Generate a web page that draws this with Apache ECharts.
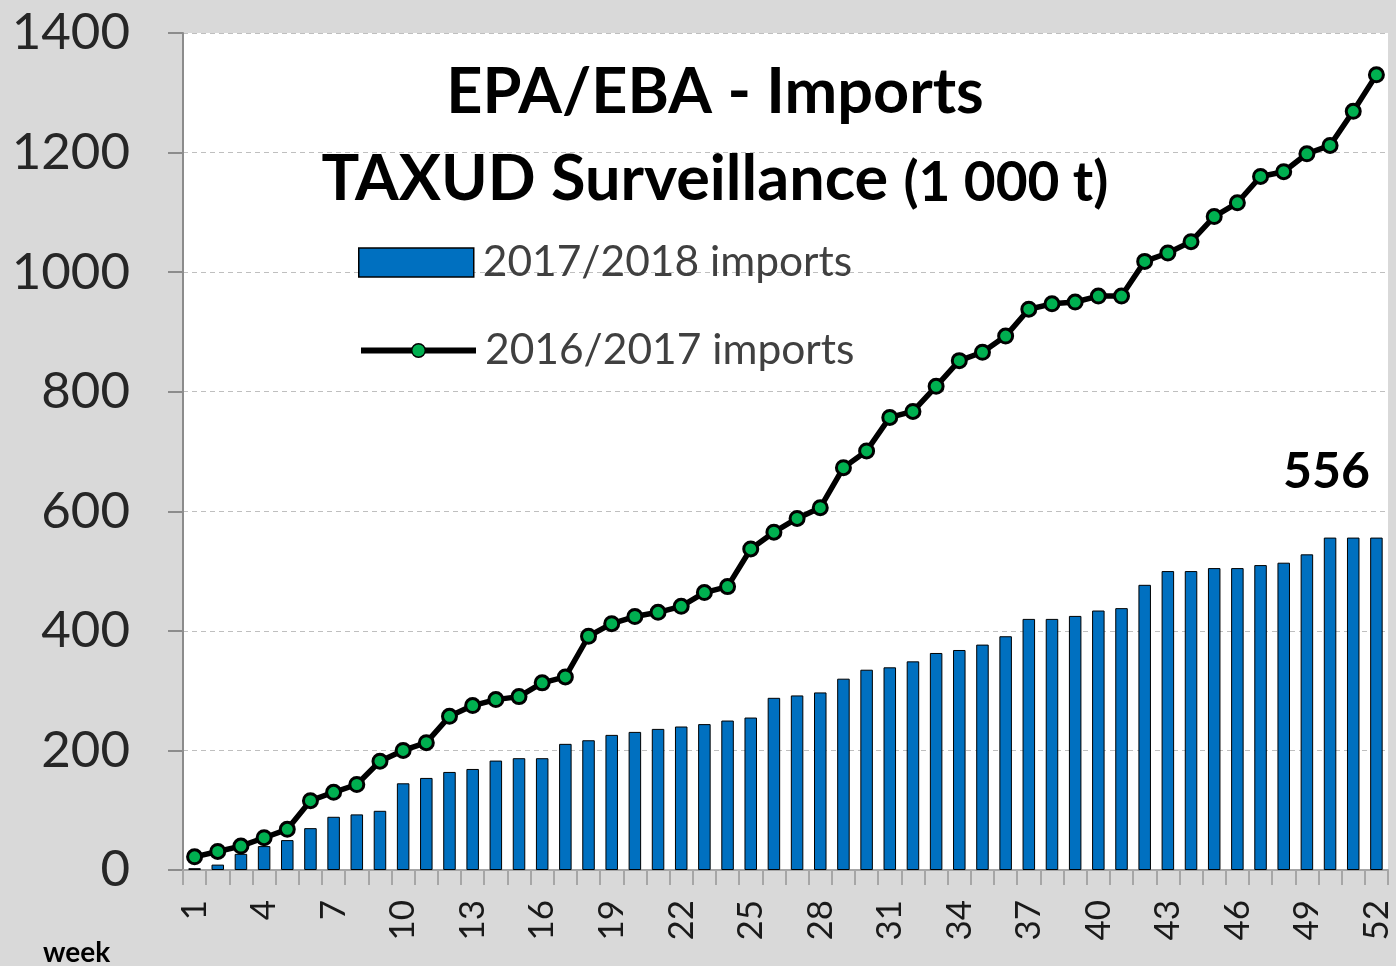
<!DOCTYPE html>
<html>
<head>
<meta charset="utf-8">
<script src="https://cdn.jsdelivr.net/npm/echarts@6/dist/echarts.min.js"></script>
<style>
html,body{margin:0;padding:0;background:#d9d9d9;}
#chart{width:1396px;height:966px;}
</style>
</head>
<body>
<div id="chart"></div>
<script>
// ---- data ----
const weeks = ['1','2','3','4','5','6','7','8','9','10','11','12','13','14','15','16','17','18','19','20','21','22','23','24','25','26',
               '27','28','29','30','31','32','33','34','35','36','37','38','39','40','41','42','43','44','45','46','47','48','49','50','51','52'];
const imports1718 = [3, 9, 27, 40, 50, 70, 89, 93, 99, 145, 154, 164, 169, 183, 187, 187, 211, 217, 226, 231, 236, 240, 244, 250, 255, 288,
                     292, 297, 320, 335, 339, 349, 363, 368, 377, 391, 420, 420, 425, 434, 438, 477, 500, 500, 505, 505, 510, 514, 528, 556, 556, 556];
const imports1617 = [22, 31, 40, 54, 68, 116, 130, 143, 182, 200, 213, 257, 275, 285, 290, 313, 323, 391, 412, 424, 431, 441, 464, 474, 537, 565,
                     588, 606, 673, 701, 757, 767, 809, 852, 866, 893, 938, 947, 950, 960, 960, 1018, 1032, 1051, 1093, 1116, 1160, 1168, 1198, 1212, 1269, 1330];
const seriesNames = ['2017/2018 imports', '2016/2017 imports'];
const titleLine1 = 'EPA/EBA - Imports';
const titleLine2a = 'TAXUD Surveillance ';
const titleLine2b = '(1 000 t)';
const xAxisName = 'week';

const FONT = 'Lato';
const lastIdx = imports1718.length - 1;
const barData = imports1718.map((v, i) => i === lastIdx ? {
  value: v,
  label: { show: true, position: 'top', offset: [-50, -36], formatter: '{c}',
           fontFamily: FONT, fontWeight: 'bold', fontSize: 50, color: '#000' }
} : v);

const chart = echarts.init(document.getElementById('chart'), null, { renderer: 'canvas' });
const option = {
  backgroundColor: '#d9d9d9',
  animation: false,
  title: [
    { text: titleLine1, left: 710, top: 56, textAlign: 'center', textVerticalAlign: 'top',
      textStyle: { fontFamily: FONT, fontWeight: 'bold', fontSize: 63, color: '#000' } },
    { text: '{a|' + titleLine2a + '}{b|' + titleLine2b + '}', left: 710, top: 143, textAlign: 'center', textVerticalAlign: 'top',
      textStyle: { rich: {
        a: { fontFamily: FONT, fontWeight: 'bold', fontSize: 63, color: '#000', verticalAlign: 'bottom' },
        b: { fontFamily: FONT, fontWeight: 'bold', fontSize: 55, color: '#000', verticalAlign: 'bottom' }
      } } }
  ],
  legend: [
    { data: [seriesNames[0]], left: 358, top: 241, padding: 0, icon: 'rect', itemWidth: 115, itemHeight: 29,
      itemStyle: { borderColor: '#000', borderWidth: 1.5 },
      textStyle: { fontFamily: FONT, fontSize: 42.5, color: '#404040', padding: [0, 0, 0, 4] } },
    { data: [seriesNames[1]], left: 358, top: 329, padding: 0, itemWidth: 115, itemHeight: 17,
      itemStyle: { borderColor: '#000', borderWidth: 1.5 },
      lineStyle: { color: '#000', width: 6 },
      textStyle: { fontFamily: FONT, fontSize: 42.5, color: '#404040', padding: [0, 0, 0, 4] } }
  ],
  grid: { left: 183, right: 8, top: 33, bottom: 96, show: true, backgroundColor: '#ffffff', borderWidth: 0,
          containLabel: false, outerBoundsMode: 'none' },
  xAxis: {
    type: 'category', data: weeks, boundaryGap: true,
    axisLine: { show: true, lineStyle: { color: '#a6a6a6', width: 2 } },
    axisTick: { show: true, interval: 0, length: 15, lineStyle: { color: '#a6a6a6', width: 2 } },
    axisLabel: { interval: 2, rotate: 90, margin: 30, fontFamily: FONT, fontSize: 35, color: '#1a1a1a' },
    splitLine: { show: false }
  },
  yAxis: {
    type: 'value', min: 0, max: 1400, interval: 200,
    axisLine: { show: true, lineStyle: { color: '#8c8c8c', width: 2 } },
    axisTick: { show: true, length: 15, lineStyle: { color: '#8c8c8c', width: 2 } },
    axisLabel: { margin: 53, fontFamily: FONT, fontSize: 51, color: '#262626', formatter: (v) => String(v) },
    splitLine: { show: true, lineStyle: { color: '#bfbfbf', type: [5, 4], width: 1 } }
  },
  graphic: [
    { type: 'text', left: 43, top: 939, style: { text: xAxisName, font: 'bold 28px Lato', fill: '#000' } }
  ],
  series: [
    { name: seriesNames[0], type: 'bar', data: barData, barWidth: '54%',
      itemStyle: { color: '#0070c0', borderColor: '#000', borderWidth: 1 }, z: 2 },
    { name: seriesNames[1], type: 'line', data: imports1617, symbol: 'circle', symbolSize: 14,
      lineStyle: { color: '#000', width: 5.5 },
      itemStyle: { color: '#00b050', borderColor: '#000', borderWidth: 3 }, z: 3 }
  ]
};
chart.setOption(option);
</script>
</body>
</html>
